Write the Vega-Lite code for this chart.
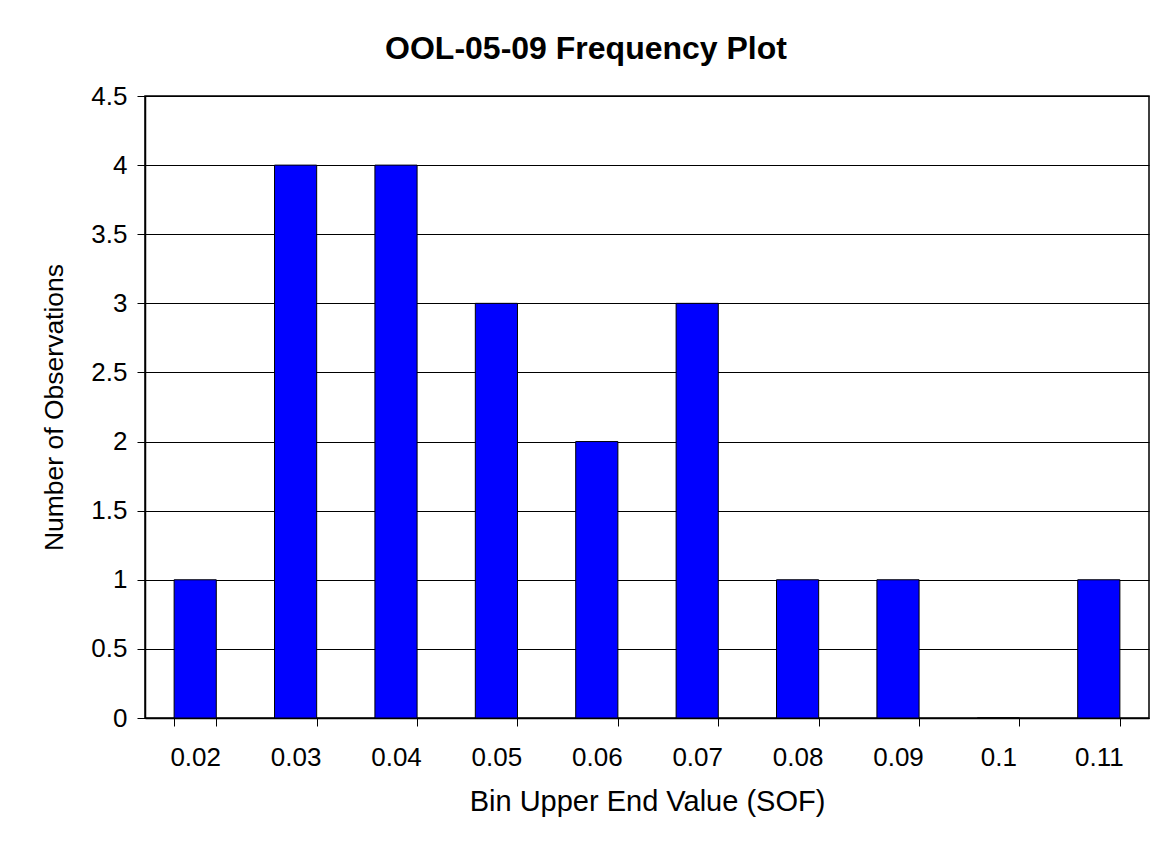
{
  "$schema": "https://vega.github.io/schema/vega-lite/v6.json",
  "autosize": "none",
  "width": 1004,
  "height": 622,
  "padding": {"left": 145, "top": 96, "right": 12, "bottom": 136},
  "background": "white",
  "title": {
    "text": "OOL-05-09 Frequency Plot",
    "font": "Liberation Sans",
    "fontSize": 32,
    "fontWeight": "bold",
    "color": "black",
    "anchor": "middle",
    "dx": -61,
    "offset": 17
  },
  "data": {
    "values": [
      {"bin": "0.02", "count": 1},
      {"bin": "0.03", "count": 4},
      {"bin": "0.04", "count": 4},
      {"bin": "0.05", "count": 3},
      {"bin": "0.06", "count": 2},
      {"bin": "0.07", "count": 3},
      {"bin": "0.08", "count": 1},
      {"bin": "0.09", "count": 1},
      {"bin": "0.1", "count": 0},
      {"bin": "0.11", "count": 1}
    ]
  },
  "mark": {"type": "bar", "color": "#0000FF", "stroke": "black", "strokeWidth": 1},
  "encoding": {
    "x": {
      "field": "bin",
      "type": "nominal",
      "sort": null,
      "scale": {"paddingInner": 0.58, "paddingOuter": 0.29},
      "axis": {
        "title": "Bin Upper End Value (SOF)",
        "titleFontSize": 29,
        "labelAngle": 0,
        "tickBand": "extent",
        "grid": false,
        "tickSize": 8,
        "labelPadding": 18,
        "titlePadding": 17
      }
    },
    "y": {
      "field": "count",
      "type": "quantitative",
      "scale": {"domain": [0, 4.5], "nice": false},
      "axis": {
        "title": "Number of Observations",
        "titleFontSize": 26.5,
        "values": [0, 0.5, 1, 1.5, 2, 2.5, 3, 3.5, 4, 4.5],
        "format": "~g",
        "tickSize": 8,
        "labelPadding": 10,
        "titlePadding": 22,
        "grid": true
      }
    }
  },
  "config": {
    "font": "Liberation Sans",
    "view": {"stroke": "black", "strokeWidth": 1.5},
    "axis": {
      "labelFont": "Liberation Sans",
      "labelFontSize": 26,
      "labelColor": "black",
      "titleFont": "Liberation Sans",
      "titleFontWeight": "normal",
      "titleColor": "black",
      "domainColor": "black",
      "domainWidth": 1.5,
      "tickColor": "black",
      "tickWidth": 1,
      "gridColor": "black",
      "gridWidth": 1,
      "gridOpacity": 1
    }
  }
}
